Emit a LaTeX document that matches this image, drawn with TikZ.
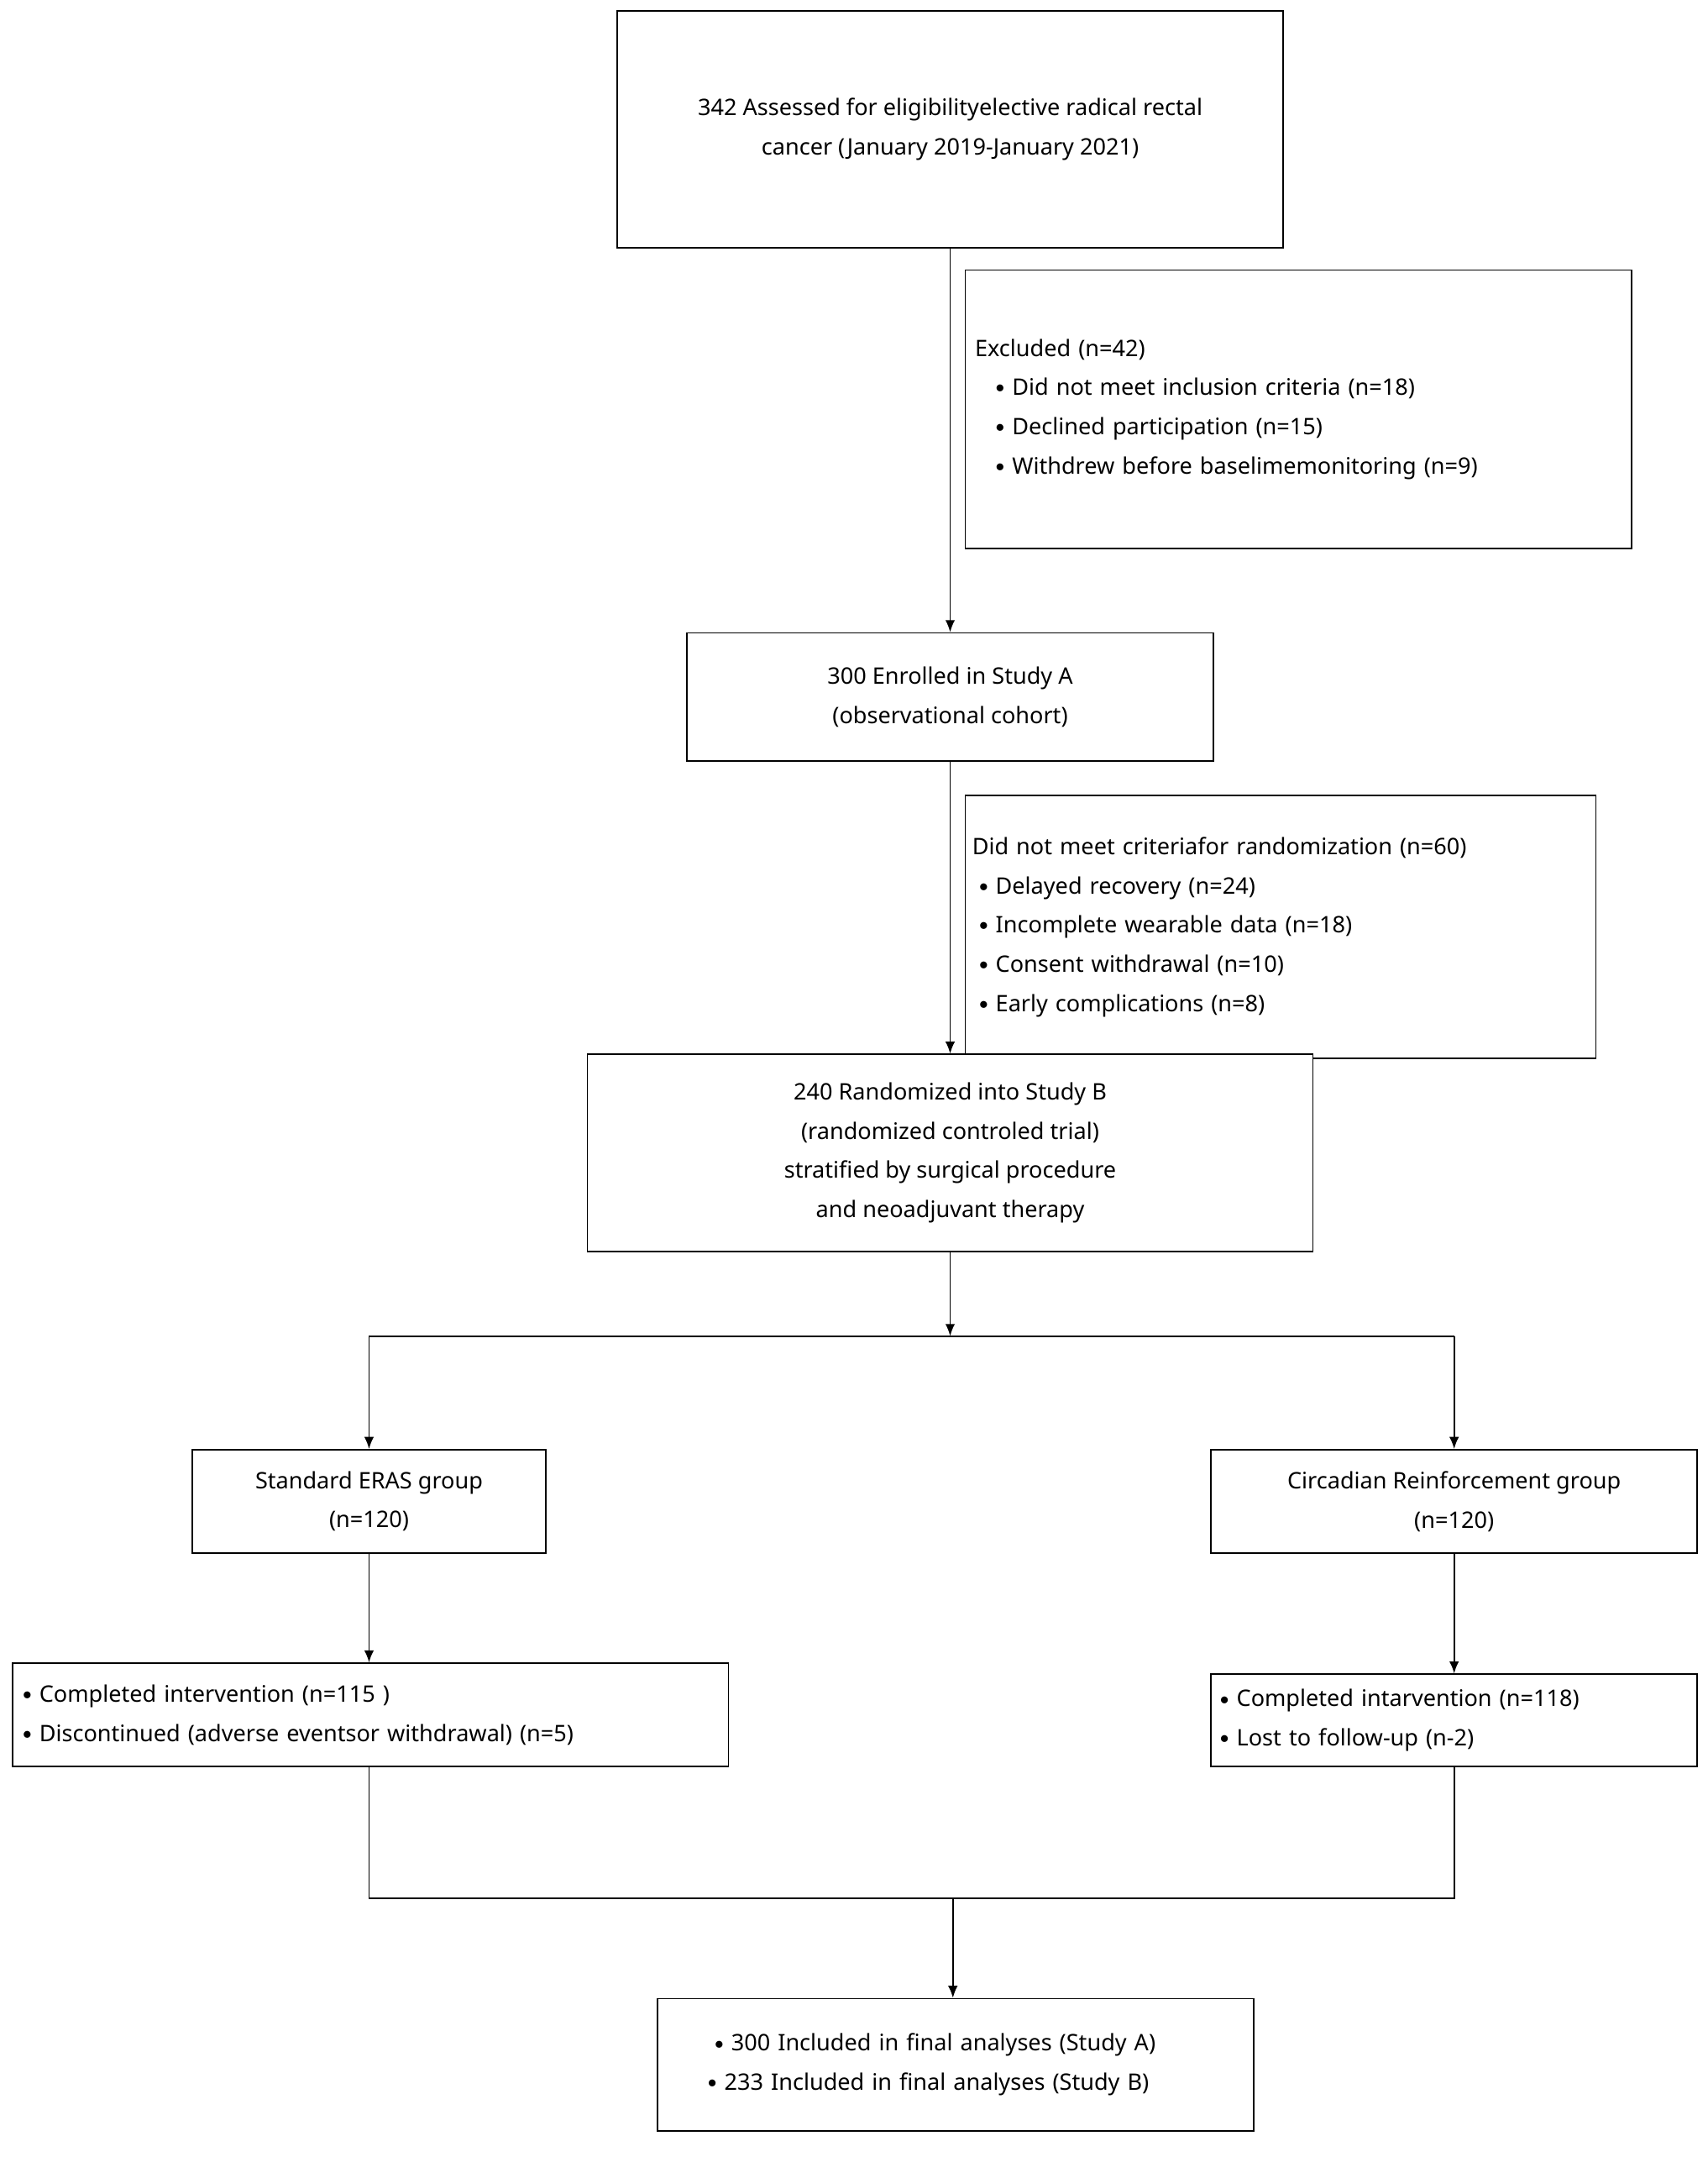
\documentclass[tikz,border=0pt]{standalone}
\usepackage{fontspec}
\setmainfont{Noto Sans}
\usetikzlibrary{calc}
\usetikzlibrary{positioning}
\tikzset{every node/.style={font=\rmfamily\fontsize{9.4pt}{16.2pt}\selectfont}}
\tikzset{box/.style={draw, line width=0.6pt, inner sep=0pt}}
\tikzset{conn/.style={line width=0.6pt, -{Latex[length=5pt,width=4pt]}}}
\usetikzlibrary{arrows.meta}
\newcommand{\bul}{\raisebox{1pt}{\scalebox{0.8}{$\bullet$}}\ }

\begin{document}
\begin{tikzpicture}[x=0.02cm, y=-0.02cm]

\useasboundingbox (0,0) rectangle (1240,1566);

% 方框
\node[box, minimum width=9.68cm, minimum height=3.44cm, align=center] (assess) at (690,94)
  {342 Assessed for eligibilityelective radical rectal\\cancer (January 2019-January 2021)};
\node[box, minimum width=9.68cm, minimum height=4.04cm, text width=9.4cm, align=left] (excl) at (943,297)
  {Excluded (n=42)\\
   \hspace{0.3cm}\bul Did not meet inclusion criteria (n=18)\\
   \hspace{0.3cm}\bul Declined participation (n=15)\\
   \hspace{0.3cm}\bul Withdrew before baselimemonitoring (n=9)};
\node[box, minimum width=7.64cm, minimum height=1.86cm, align=center] (enrol) at (690,506)
  {300 Enrolled in Study A\\(observational cohort)};
\node[box, minimum width=9.16cm, minimum height=3.82cm, text width=8.96cm, align=left] (notmet) at (930,673)
  {Did not meet criteriafor randomization (n=60)\\
   \hspace{0.1cm}\bul Delayed recovery (n=24)\\
   \hspace{0.1cm}\bul Incomplete wearable data (n=18)\\
   \hspace{0.1cm}\bul Consent withdrawal (n=10)\\
   \hspace{0.1cm}\bul Early complications (n=8)};
\node[box, fill=white, minimum width=10.54cm, minimum height=2.86cm, align=center] (rand) at (690,837)
  {240 Randomized into Study B\\(randomized controled trial)\\stratified by surgical procedure\\and neoadjuvant therapy};
\node[box, minimum width=5.14cm, minimum height=1.5cm, align=center] (std) at (268,1090)
  {Standard ERAS group\\(n=120)};
\node[box, minimum width=7.06cm, minimum height=1.5cm, align=center] (circ) at (1056,1090)
  {Circadian Reinforcement group\\(n=120)};
\node[box, minimum width=10.4cm, minimum height=1.5cm, text width=10.1cm, align=left] (compl) at (269,1245)
  {\bul Completed intervention (n=115 )\\
   \bul Discontinued (adverse eventsor withdrawal) (n=5)};
\node[box, minimum width=7.06cm, minimum height=1.34cm, text width=6.8cm, align=left] (compr) at (1056,1249)
  {\bul Completed intarvention (n=118)\\
   \bul Lost to follow-up (n-2)};
\node[box, minimum width=8.66cm, minimum height=1.92cm, text width=8cm, align=left] (final) at (694,1499)
  {\hspace{0.5cm}\bul 300 Included in final analyses (Study A)\\
   \hspace{0.4cm}\bul 233 Included in final analyses (Study B)};

% 连线
\coordinate (split) at (690,970);
\coordinate (splitL) at (268,970);
\coordinate (splitR) at (1056,970);
\coordinate (joinL) at (268,1378);
\coordinate (joinR) at (1056,1378);
\coordinate (join) at (692,1378);

\draw[conn] (assess) -- (enrol);
\draw[conn] (enrol) -- (rand);
\draw[conn] (rand) -- (split);
\draw[line width=0.6pt] (splitL) -- (splitR);
\draw[conn] (splitL) -- (std);
\draw[conn] (splitR) -- (circ);
\draw[conn] (std) -- (compl.north -| std);
\draw[conn] (circ) -- (compr);
\draw[line width=0.6pt] (compl.south -| std) -- (joinL) -- (joinR) -- (compr.south);
\draw[conn] (join) -- (final.north -| join);

\end{tikzpicture}
\end{document}
